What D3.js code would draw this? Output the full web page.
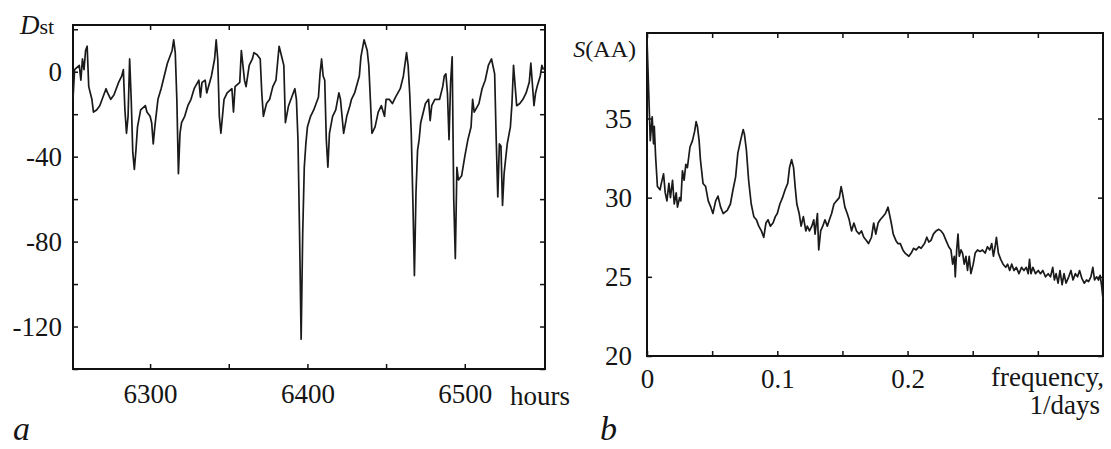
<!DOCTYPE html>
<html>
<head>
<meta charset="utf-8">
<script src="https://cdn.jsdelivr.net/npm/d3@7"></script>
<style>
  body { margin: 0; background: #fff; }
  text { font-family: "Liberation Serif", "DejaVu Serif", serif; fill: #151515; }
</style>
</head>
<body>
<svg id="fig" width="1111" height="449"></svg>
<script>
// panel a: Dst index, hourly
var dstHours = [6251,6252,6255,6256,6257,6258,6259,6260,6261,6263,6264,6266,6268,6270,6272,6273,6275,6277,6280,6282,
  6283,6284,6285,6286,6287,6288,6289,6290,6291,6292,6294,6297,6298,6300,6301,6302,6303,6305,6307,6309,
  6311,6314,6315,6316,6317,6318,6319,6320,6322,6324,6326,6328,6331,6332,6333,6335,6336,6339,6341,6342,
  6343,6344,6345,6347,6349,6352,6353,6354,6357,6358,6360,6361,6363,6365,6366,6368,6370,6371,6372,6374,
  6376,6378,6380,6382,6384,6385,6386,6388,6390,6392,6393,6394,6395,6396,6397,6398,6399,6400,6402,6404,
  6407,6408,6409,6410,6411,6412,6413,6414,6416,6418,6420,6421,6423,6425,6427,6428,6430,6433,6434,6436,
  6438,6439,6440,6441,6443,6445,6447,6449,6450,6452,6454,6456,6459,6461,6463,6464,6465,6466,6467,6468,
  6469,6470,6471,6472,6475,6477,6478,6479,6481,6484,6486,6487,6488,6489,6490,6491,6492,6493,6494,6495,
  6496,6498,6500,6502,6504,6505,6506,6509,6511,6513,6515,6517,6519,6520,6521,6522,6523,6524,6525,6527,
  6529,6530,6531,6533,6535,6537,6539,6541,6542,6544,6545,6546,6548,6549,6550];
var dstValues = [-13,1,3,-4,6,1,10,12,-7,-13,-19,-18,-16,-12,-8,-10,-13,-11,-5,-2,
  1,-18,-29,-21,6,-13,-38,-46,-37,-26,-18,-16,-19,-21,-24,-34,-26,-13,-8,-2,
  4,10,15,9,-13,-48,-29,-24,-21,-16,-13,-8,-4,-12,-5,-4,-10,-2,6,15,
  6,-21,-29,-13,-10,-8,-19,-7,-5,10,-4,-7,3,6,9,8,6,-10,-21,-15,
  -13,-7,-4,12,6,3,-24,-16,-12,-8,-13,-32,-76,-126,-76,-45,-34,-26,-21,-18,
  -12,-1,6,-2,-4,-32,-45,-29,-21,-18,-10,-13,-29,-21,-16,-13,-10,-2,7,15,
  10,3,-13,-29,-26,-19,-16,-21,-13,-13,-15,-12,-8,-2,9,3,-10,-29,-60,-96,
  -57,-37,-32,-24,-15,-13,-23,-16,-13,-13,-7,-2,-1,-10,-32,-5,7,-60,-88,-45,
  -51,-49,-40,-32,-26,-13,-19,-15,-8,-4,3,6,-1,-32,-59,-34,-35,-63,-48,-34,
  -26,-15,3,-16,-15,-13,-10,-5,4,-16,-10,-7,-2,3,1];

// panel b: spectrum S(AA) vs frequency, 1/days
var freqs = [0,0.002,0.0025,0.004,0.005,0.0056,0.0066,0.008,0.010,0.011,0.0127,0.014,0.0153,0.0168,0.018,0.0196,0.0209,0.0224,0.0234,0.025,
  0.026,0.0272,0.0285,0.0298,0.031,0.033,0.0349,0.0366,0.0377,0.0387,0.040,0.041,0.043,0.045,0.047,0.049,0.0506,0.0527,0.0545,0.0565,
  0.0585,0.0616,0.064,0.066,0.068,0.0697,0.0718,0.0738,0.0748,0.0763,0.078,0.080,0.082,0.084,0.0858,0.0878,0.0896,0.0913,0.0929,0.0947,
  0.0967,0.0985,0.100,0.102,0.104,0.106,0.108,0.1094,0.111,0.1125,0.1137,0.115,0.1168,0.1183,0.120,0.1219,0.123,0.1247,0.1265,0.128,
  0.129,0.1308,0.1318,0.1333,0.1349,0.1366,0.1384,0.140,0.1417,0.1435,0.1455,0.1476,0.149,0.150,0.1519,0.1537,0.1552,0.157,0.1588,0.1608,
  0.1628,0.1646,0.1664,0.1684,0.170,0.1723,0.174,0.1756,0.1774,0.179,0.181,0.183,0.185,0.186,0.1875,0.189,0.191,0.1926,0.1944,0.1964,
  0.198,0.201,0.2028,0.2046,0.2066,0.2087,0.2104,0.213,0.2148,0.2163,0.218,0.2198,0.2219,0.2239,0.2257,0.2275,0.2295,0.2316,0.2333,0.2346,
  0.2359,0.2366,0.2377,0.2387,0.2397,0.241,0.2422,0.2435,0.2448,0.246,0.2473,0.2486,0.2504,0.2519,0.2537,0.2555,0.2575,0.2595,0.2613,0.2631,
  0.2646,0.2659,0.2672,0.2682,0.2697,0.2715,0.2733,0.2753,0.2768,0.2784,0.2799,0.2817,0.2835,0.2855,0.2875,0.2893,0.2911,0.2926,0.2936,0.2947,
  0.2962,0.2982,0.3003,0.302,0.3038,0.3059,0.3079,0.3097,0.3114,0.3127,0.314,0.3155,0.317,0.3186,0.3201,0.3216,0.3237,0.3254,0.327,0.3288,
  0.3305,0.332,0.3338,0.3356,0.3374,0.3389,0.3407,0.3422,0.3435,0.345,0.3466,0.3478,0.349,0.35];
var spectrum = [40,34.9,33.6,35.1,33.4,34.5,32.6,30.7,30.5,30.9,31.5,30.3,29.8,30.9,30.0,31.1,29.6,30.3,29.4,30.0,
  29.8,31.7,31.1,32.1,31.9,33.2,33.6,34.2,34.8,34.5,33.6,32.4,30.9,30.7,29.8,29.4,29.0,29.8,30.1,29.4,
  29.0,29.2,29.6,30.5,31.3,32.8,33.6,34.3,34.0,33.0,31.1,29.6,28.8,28.6,28.2,27.9,27.5,28.4,28.6,28.2,
  28.4,28.8,29.0,29.6,30.0,30.5,30.9,31.9,32.4,31.9,30.7,29.6,29.0,28.2,28.8,27.9,28.2,27.9,28.2,28.6,
  27.7,29.0,26.7,27.9,28.2,28.6,28.2,28.6,29.0,29.6,29.8,30.0,30.7,30.3,29.4,29.0,28.6,27.9,28.4,27.9,
  27.7,27.9,27.5,27.3,27.1,27.5,28.4,27.7,28.4,28.6,28.8,29.0,29.4,29.0,28.4,27.7,27.3,27.1,27.1,26.7,
  26.5,26.3,26.5,26.8,26.7,26.9,26.8,27.1,27.5,27.2,27.3,27.7,27.9,28.0,27.9,27.7,27.3,26.9,26.7,25.8,
  26.3,25.0,26.7,27.7,26.3,26.7,26.5,25.8,26.3,25.4,26.3,25.2,25.8,26.5,26.7,26.6,26.7,26.5,26.9,26.7,
  27.1,26.3,26.9,27.5,26.5,26.1,25.8,25.6,25.8,25.4,25.8,25.4,25.6,25.2,25.6,25.4,25.6,25.2,26.1,25.2,
  25.6,25.2,25.4,25.2,25.4,25.0,25.2,25.0,25.6,24.8,25.2,24.6,25.4,24.5,25.2,24.6,25.0,25.4,24.8,25.2,
  25.0,25.4,24.9,24.6,24.8,24.7,25.0,25.6,24.8,25.0,24.8,25.1,24.4,23.6];

var dstTicks = [-140,-120,-100,-80,-60,-40,-20,0,20];
var dstLabels = [0,-40,-80,-120];
var hourTicks = [6300,6350,6400,6450,6500];
var hourLabels = [6300,6400,6500];
var sTicks = [20,25,30,35];
var sLabels = [20,25,30,35];
var freqTicks = [0,0.05,0.1,0.15,0.2,0.25,0.3];
var freqLabels = [0,0.1,0.2];

var serif = "'Liberation Serif', 'DejaVu Serif', serif";
var svg = d3.select("#fig");
svg.append("rect").attr("width",1111).attr("height",449).attr("fill","#fff");

function drawPanel(box, xDomain, yDomain, xs, ys, xTicks, xLab, yTicks, yLab, xPad, yPad){
	var x = d3.scaleLinear().domain(xDomain).range([box.left, box.right]);
	var y = d3.scaleLinear().domain(yDomain).range([box.bottom, box.top]);
	var g = svg.append("g");

	// plain hyphen for negatives, like the print
	var fmtX = function(d){ return xLab.indexOf(d) >= 0 ? String(d) : ""; };
	var fmtY = function(d){ return yLab.indexOf(d) >= 0 ? String(d) : ""; };

	var ax = [
		g.append("g").attr("transform","translate(0," + box.bottom + ")")
			.call(d3.axisBottom(x).tickValues(xTicks).tickFormat(fmtX).tickSizeInner(-5).tickSizeOuter(0).tickPadding(xPad)),
		g.append("g").attr("transform","translate(0," + box.top + ")")
			.call(d3.axisTop(x).tickValues(xTicks).tickFormat("").tickSizeInner(-5).tickSizeOuter(0)),
		g.append("g").attr("transform","translate(" + box.left + ",0)")
			.call(d3.axisLeft(y).tickValues(yTicks).tickFormat(fmtY).tickSizeInner(-5).tickSizeOuter(0).tickPadding(yPad)),
		g.append("g").attr("transform","translate(" + box.right + ",0)")
			.call(d3.axisRight(y).tickValues(yTicks).tickFormat("").tickSizeInner(-5).tickSizeOuter(0))
	];
	ax.forEach(function(a){
		a.attr("font-family", null).attr("font-size", null);
		a.selectAll(".domain").remove();
		a.selectAll("line").attr("stroke","#111").attr("stroke-width",1.5);
		a.selectAll("text")
			.style("font-family", serif)
			.style("font-size","27px")
			.attr("fill","#151515");
	});

	g.append("rect")
		.attr("x",box.left).attr("y",box.top)
		.attr("width",box.right-box.left).attr("height",box.bottom-box.top)
		.attr("fill","none").attr("stroke","#111").attr("stroke-width",2);

	var pts = xs.map(function(d,i){ return [d, ys[i]]; });
	g.append("path")
		.datum(pts)
		.attr("fill","none")
		.attr("stroke","#1a1a1a")
		.attr("stroke-width",1.7)
		.attr("stroke-linejoin","round")
		.attr("d", d3.line()
			.x(function(d){ return x(d[0]); })
			.y(function(d){ return y(d[1]); }));
	return g;
}

drawPanel({left:73, right:545, top:25, bottom:369}, [6251,6551], [-140,22],
	dstHours, dstValues, hourTicks, hourLabels, dstTicks, dstLabels, 15, 11);

drawPanel({left:647, right:1103, top:33, bottom:356}, [0,0.35], [20,40.4],
	freqs, spectrum, freqTicks, freqLabels, sTicks, sLabels, 13, 15);

// axis titles and panel letters
var dst = svg.append("text").attr("x",20).attr("y",34).style("font-size","27px");
dst.append("tspan").attr("font-style","italic").text("D");
dst.append("tspan").style("font-size","22px").text("st");

svg.append("text").attr("x",510).attr("y",405).style("font-size","27px").text("hours");

var sa = svg.append("text").attr("x",636).attr("y",57).style("font-size","24px").attr("text-anchor","end");
sa.append("tspan").attr("font-style","italic").text("S");
sa.append("tspan").text("(AA)");

svg.append("text").attr("x",1104).attr("y",386).style("font-size","27px").attr("text-anchor","end").text("frequency,");
svg.append("text").attr("x",1100).attr("y",414).style("font-size","27px").attr("text-anchor","end").text("1/days");

svg.append("text").attr("x",13).attr("y",440).style("font-size","34px").attr("font-style","italic").text("a");
svg.append("text").attr("x",600).attr("y",440).style("font-size","34px").attr("font-style","italic").text("b");
</script>
</body>
</html>
